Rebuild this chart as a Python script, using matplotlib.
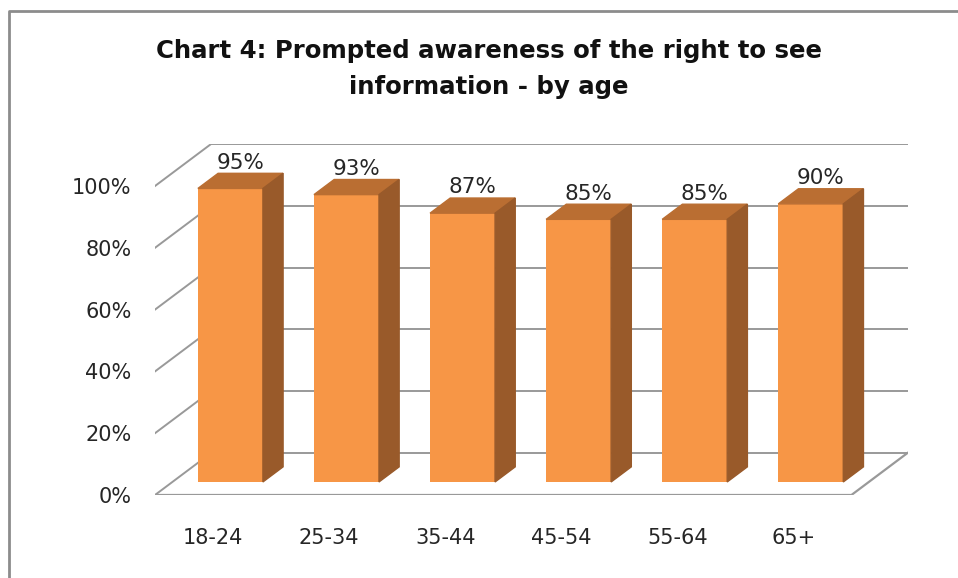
import matplotlib.pyplot as plt
from matplotlib.patches import Polygon
from matplotlib.lines import Line2D

# data
ages = ['18-24', '25-34', '35-44', '45-54', '55-64', '65+']
aware = [95, 93, 87, 85, 85, 90]
ticks = [0, 20, 40, 60, 80, 100]
title = 'Chart 4: Prompted awareness of the right to see\ninformation - by age'

# fake 3d: depth offset of the chart box, in data units
DX, DY = 0.483, 13.6
z0, z1 = 0.31, 0.67          # bar front / back depth (fraction of box depth)
bw = 0.56

front = '#F79646'
top = '#BA6E32'
side = '#995A2A'
grid = '#999999'

fig = plt.figure(figsize=(9.58, 5.78), dpi=100)
ax = fig.add_axes([155 / 958, 83 / 578, 752.5 / 958, 351 / 578])
ax.set_xlim(-0.5, len(ages) - 0.5 + DX)
ax.set_ylim(0, 100 + DY)
for s in ax.spines.values():
    s.set_visible(False)

x0, x1 = -0.5, len(ages) - 0.5
# back wall + left wall grid
for t in ticks:
    ax.plot([x0 + DX, x1 + DX], [t + DY, t + DY], color=grid, lw=1.4, zorder=1)
    ax.plot([x0, x0 + DX], [t, t + DY], color=grid, lw=1.4, zorder=1)
# floor
ax.plot([x0, x1, x1 + DX], [0, 0, DY], color=grid, lw=1.6, zorder=1)

for i, v in enumerate(aware):
    xl = i - bw / 2 + z0 * DX
    xr = xl + bw
    b = z0 * DY
    ddx, ddy = (z1 - z0) * DX, (z1 - z0) * DY
    ax.bar(xl + bw / 2, v, bw, bottom=b, color=front, zorder=3)
    ax.add_patch(Polygon([(xl, v + b), (xr, v + b), (xr + ddx, v + b + ddy),
                          (xl + ddx, v + b + ddy)], closed=True, color=top, zorder=3))
    ax.add_patch(Polygon([(xr, b), (xr, v + b), (xr + ddx, v + b + ddy),
                          (xr + ddx, b + ddy)], closed=True, color=side, zorder=3))
    ax.text(xl + (bw + ddx) / 2, v + b + ddy + 0.2, f'{v}%', ha='center', va='bottom',
            fontsize=15.5, color='#262626', zorder=4)

ax.set_xticks(range(len(ages)), ages)
ax.set_yticks(ticks, [f'{t}%' for t in ticks])
ax.tick_params(length=0, labelsize=15, labelcolor='#262626')
ax.tick_params(axis='y', pad=17)
ax.tick_params(axis='x', pad=24)

fig.text(489 / 958, 1 - 69 / 578, title, ha='center', va='center', fontsize=17.6,
         fontweight='bold', linespacing=1.6, color='#111111')

# outer chart frame (top and left edges visible)
fig.add_artist(Line2D([9 / 958, 9 / 958, 1], [0, 1 - 11 / 578, 1 - 11 / 578],
                      transform=fig.transFigure, color='#8c8c8c', lw=2))

fig.savefig('out.png', dpi=100)
